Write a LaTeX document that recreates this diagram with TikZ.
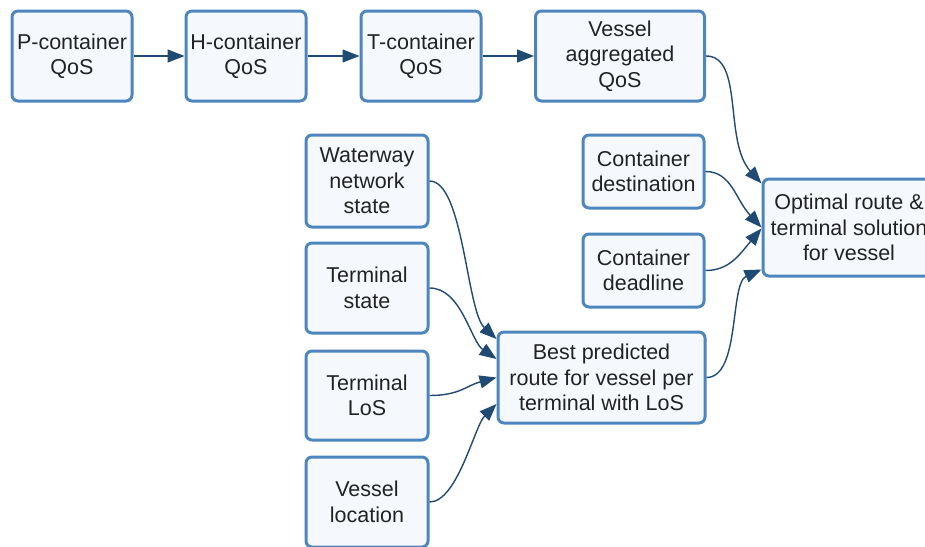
\documentclass[tikz,border=0pt]{standalone}
\usepackage{fontspec}
\setmainfont{Liberation Sans}
\usetikzlibrary{arrows.meta,calc}

\definecolor{boxline}{HTML}{4D86BF}
\definecolor{boxfill}{HTML}{F5F9FE}
\definecolor{linkcol}{HTML}{1F4A73}
\definecolor{txt}{HTML}{222222}

\begin{document}
\begin{tikzpicture}[x=1pt,y=-1pt,
  box/.style={draw=boxline, fill=boxfill, line width=3pt, rounded corners=6pt,
    align=center, text=txt, inner sep=0pt,
    font=\fontsize{21.5}{25.5}\selectfont},
  link/.style={draw=linkcol, line width=1.4pt,
    -{Triangle[length=17pt,width=13pt]}}
]
\useasboundingbox (0,0) rectangle (925,546);

% top chain of QoS boxes
\node[box, minimum width=120pt, minimum height=90pt] (pc) at (72,56) {P-container\\QoS};
\node[box, minimum width=120pt, minimum height=90pt] (hc) at (246,56) {H-container\\QoS};
\node[box, minimum width=120pt, minimum height=90pt] (tc) at (421,56) {T-container\\QoS};
\node[box, minimum width=169pt, minimum height=90pt] (va) at (620,56) {Vessel\\aggregated\\QoS};

% container inputs
\node[box, minimum width=121pt, minimum height=73pt] (cdest) at (643.5,171.5) {Container\\destination};
\node[box, minimum width=121pt, minimum height=73pt] (cdead) at (643.5,270.5) {Container\\deadline};

% final output
\node[box, minimum width=172pt, minimum height=97pt] (opt) at (849,227.5) {Optimal route \&\\terminal solution\\for vessel};

% left column inputs
\node[box, minimum width=122pt, minimum height=92pt] (ww) at (367,181) {Waterway\\network\\state};
\node[box, minimum width=122pt, minimum height=90pt] (ts) at (367,288) {Terminal\\state};
\node[box, minimum width=122pt, minimum height=89pt] (tl) at (367,395.5) {Terminal\\LoS};
\node[box, minimum width=122pt, minimum height=90pt] (vl) at (367,502) {Vessel\\location};

% intermediate result
\node[box, minimum width=207pt, minimum height=91pt] (best) at (601.5,377.5) {Best predicted\\route for vessel per\\terminal with LoS};

% straight links along the top row
\draw[link] (pc) -- (hc);
\draw[link] (hc) -- (tc);
\draw[link] (tc) -- (va);

% curved links into the final output
\draw[link] (va.east) .. controls +(38,0) and +(-38,-42) .. ($(opt.west)+(0,-44)$);
\draw[link] (cdest.east) .. controls +(26,0) and +(-26,-28) .. ($(opt.west)+(0,0)$);
\draw[link] (cdead.east) .. controls +(24,0) and +(-22,26) .. ($(opt.west)+(0,1)$);
\draw[link] (best.east) .. controls +(34,0) and +(-32,14) .. ($(opt.west)+(0,42)$);

% curved links into the intermediate result
\draw[link] (ww.east) .. controls +(34,0) and +(-30,-28) .. ($(best.west)+(0,-38.5)$);
\draw[link] (ts.east) .. controls +(32,0) and +(-26,-18) .. ($(best.west)+(0,-18.5)$);
\draw[link] (tl.east) .. controls +(30,0) and +(-30,8) .. ($(best.west)+(0,0)$);
\draw[link] (vl.east) .. controls +(28,0) and +(-22,22) .. ($(best.west)+(0,26.5)$);
\end{tikzpicture}
\end{document}
